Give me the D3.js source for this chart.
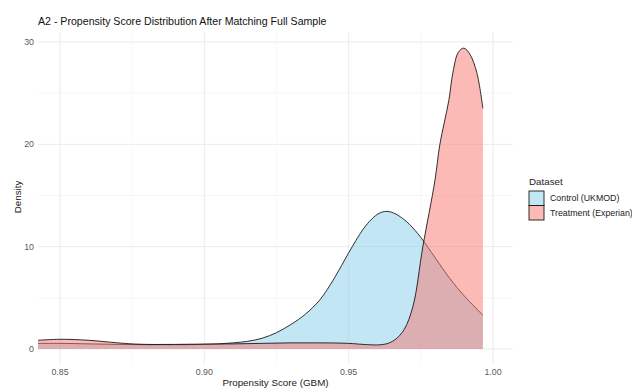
<!DOCTYPE html>
<html>
<head>
<meta charset="utf-8">
<script src="https://cdn.jsdelivr.net/npm/d3@7"></script>
<style>
  body { margin: 0; background: #fff; }
  text { font-family: "Liberation Sans", Arial, Helvetica, sans-serif; }
</style>
</head>
<body>
<div id="chart"></div>
<script>
// values
var datasets = ["Control (UKMOD)", "Treatment (Experian)"];
var fills = ["#87CEEB", "#F8766D"];

var controlScore   = [0.8424, 0.85, 0.86, 0.87, 0.88, 0.89, 0.90, 0.905, 0.91, 0.915, 0.92, 0.925, 0.93, 0.935, 0.94, 0.945, 0.95, 0.955, 0.958, 0.9605, 0.963, 0.9655, 0.968, 0.971, 0.975, 0.98, 0.985, 0.99, 0.9965];
var controlDensity = [0.55, 0.55, 0.5, 0.45, 0.42, 0.42, 0.45, 0.5, 0.6, 0.75, 1.05, 1.6, 2.4, 3.4, 4.8, 6.9, 9.4, 11.7, 12.7, 13.25, 13.45, 13.3, 12.9, 12.2, 10.9, 8.9, 6.9, 5.2, 3.3];

var treatmentScore   = [0.8424, 0.85, 0.86, 0.87, 0.875, 0.88, 0.89, 0.90, 0.91, 0.92, 0.93, 0.94, 0.95, 0.955, 0.96, 0.963, 0.966, 0.9692, 0.9723, 0.9757, 0.9799, 0.9816, 0.9847, 0.9861, 0.988, 0.9899, 0.992, 0.9944, 0.9965];
var treatmentDensity = [0.85, 0.95, 0.85, 0.6, 0.5, 0.45, 0.45, 0.48, 0.5, 0.55, 0.6, 0.6, 0.55, 0.45, 0.4, 0.5, 0.9, 1.9, 4.2, 10.0, 16.5, 20.0, 24.3, 27.0, 29.0, 29.4, 28.8, 27.0, 23.5];

var xTicks = [0.85, 0.90, 0.95, 1.00];
var xMinor = [0.875, 0.925, 0.975];
var yTicks = [0, 10, 20, 30];
var yMinor = [5, 15, 25];

var W = 632, H = 388;
var panel = { left: 38, right: 513, top: 32, bottom: 364 };

var svg = d3.select("#chart")
            .append("svg")
            .attr("width", W)
            .attr("height", H);

var x = d3.scaleLinear().domain([0.85, 1.00]).range([60, 493]);
var y = d3.scaleLinear().domain([0, 30]).range([349, 42]);

// grid
svg.selectAll("line.xminor")
   .data(xMinor)
   .enter()
   .append("line")
   .attr("x1", function(d) { return x(d); })
   .attr("x2", function(d) { return x(d); })
   .attr("y1", panel.top)
   .attr("y2", panel.bottom)
   .attr("stroke", "#F2F2F2")
   .attr("stroke-width", 0.6);

svg.selectAll("line.yminor")
   .data(yMinor)
   .enter()
   .append("line")
   .attr("x1", panel.left)
   .attr("x2", panel.right)
   .attr("y1", function(d) { return y(d); })
   .attr("y2", function(d) { return y(d); })
   .attr("stroke", "#F2F2F2")
   .attr("stroke-width", 0.6);

svg.selectAll("line.xmajor")
   .data(xTicks)
   .enter()
   .append("line")
   .attr("x1", function(d) { return x(d); })
   .attr("x2", function(d) { return x(d); })
   .attr("y1", panel.top)
   .attr("y2", panel.bottom)
   .attr("stroke", "#EBEBEB")
   .attr("stroke-width", 1);

svg.selectAll("line.ymajor")
   .data(yTicks)
   .enter()
   .append("line")
   .attr("x1", panel.left)
   .attr("x2", panel.right)
   .attr("y1", function(d) { return y(d); })
   .attr("y2", function(d) { return y(d); })
   .attr("stroke", "#EBEBEB")
   .attr("stroke-width", 1);

// density layers
var series = [
  { name: datasets[0], fill: fills[0], pts: d3.zip(controlScore, controlDensity) },
  { name: datasets[1], fill: fills[1], pts: d3.zip(treatmentScore, treatmentDensity) }
];

var area = d3.area()
  .x(function(d) { return x(d[0]); })
  .y0(y(0))
  .y1(function(d) { return y(d[1]); })
  .curve(d3.curveCatmullRom.alpha(0.5));

var line = d3.line()
  .x(function(d) { return x(d[0]); })
  .y(function(d) { return y(d[1]); })
  .curve(d3.curveCatmullRom.alpha(0.5));

series.forEach(function(s) {
  svg.append("path")
     .attr("d", area(s.pts))
     .attr("fill", s.fill)
     .attr("fill-opacity", 0.5);
  svg.append("path")
     .attr("d", line(s.pts))
     .attr("fill", "none")
     .attr("stroke", "#1a1a1a")
     .attr("stroke-width", 0.9);
});

// axis labels
svg.selectAll("text.xtick")
   .data(xTicks)
   .enter()
   .append("text")
   .text(function(d) { return d3.format(".2f")(d); })
   .attr("x", function(d) { return x(d); })
   .attr("y", 375)
   .attr("text-anchor", "middle")
   .attr("font-size", "8.8px")
   .attr("fill", "#5a5a5a");

svg.selectAll("text.ytick")
   .data(yTicks)
   .enter()
   .append("text")
   .text(function(d) { return d; })
   .attr("x", 34)
   .attr("y", function(d) { return y(d); })
   .attr("dy", "0.35em")
   .attr("text-anchor", "end")
   .attr("font-size", "8.8px")
   .attr("fill", "#5a5a5a");

svg.append("text")
   .text("Propensity Score (GBM)")
   .attr("x", (panel.left + panel.right) / 2)
   .attr("y", 386)
   .attr("text-anchor", "middle")
   .attr("font-size", "9.8px")
   .attr("fill", "#222");

svg.append("text")
   .text("Density")
   .attr("transform", "translate(21,197) rotate(-90)")
   .attr("text-anchor", "middle")
   .attr("font-size", "9.8px")
   .attr("fill", "#222");

svg.append("text")
   .text("A2 - Propensity Score Distribution After Matching Full Sample")
   .attr("x", 38)
   .attr("y", 25)
   .attr("font-size", "10.6px")
   .attr("fill", "#111");

// legend
var legend = svg.append("g").attr("transform", "translate(529,0)");

legend.append("text")
   .text("Dataset")
   .attr("x", 0)
   .attr("y", 185)
   .attr("font-size", "9.8px")
   .attr("fill", "#222");

var keys = legend.selectAll("g.key")
   .data(series)
   .enter()
   .append("g")
   .attr("transform", function(d, i) { return "translate(0," + (191 + i * 14.5) + ")"; });

keys.append("rect")
   .attr("width", 15)
   .attr("height", 14.5)
   .attr("fill", function(d) { return d.fill; })
   .attr("fill-opacity", 0.5)
   .attr("stroke", "#1a1a1a")
   .attr("stroke-width", 0.9);

keys.append("text")
   .text(function(d) { return d.name; })
   .attr("x", 21)
   .attr("y", 7.3)
   .attr("dy", "0.35em")
   .attr("font-size", "8.8px")
   .attr("fill", "#222");
</script>
</body>
</html>
